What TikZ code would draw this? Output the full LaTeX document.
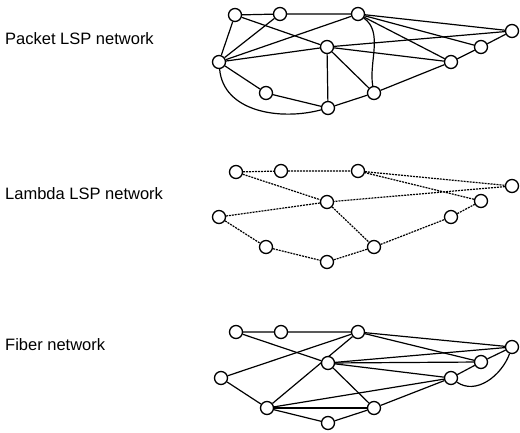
\documentclass[tikz,border=0pt]{standalone}
\usepackage{fontspec}
\setmainfont{Liberation Sans}
\usetikzlibrary{backgrounds}
\begin{document}
\begin{tikzpicture}[x=1pt,y=1pt,
    router/.style={circle, draw, line width=1.3pt, fill=white, minimum size=13pt, inner sep=0pt},
    link/.style={line width=1.2pt},
    lambda/.style={line width=1.2pt, dash pattern=on 2pt off 1pt},
    netlabel/.style={anchor=west, inner sep=0pt, font=\fontsize{16.5}{19}\selectfont}]
                \useasboundingbox (0,0) rectangle (520,-433);
                \node[netlabel] (packet) at (5,-39) {Packet LSP network};
                \node[netlabel] (lambdanet) at (5,-194) {Lambda LSP network};
                \node[netlabel] (fiber) at (5,-345) {Fiber network};
                \node[router] (pa) at (235,-15) {};
                \node[router] (pb) at (280,-14) {};
                \node[router] (pc) at (358,-14) {};
                \node[router] (pd) at (512,-31) {};
                \node[router] (pe) at (481,-47) {};
                \node[router] (pf) at (451,-62) {};
                \node[router] (pg) at (327,-47) {};
                \node[router] (ph) at (219,-62) {};
                \node[router] (pi) at (266,-93) {};
                \node[router] (pj) at (374,-93) {};
                \node[router] (pk) at (328,-108) {};
                \node[router] (la) at (236,-172) {};
                \node[router] (lb) at (281,-171) {};
                \node[router] (lc) at (358,-171) {};
                \node[router] (ld) at (512,-186) {};
                \node[router] (le) at (481,-201) {};
                \node[router] (lf) at (451,-217) {};
                \node[router] (lg) at (327,-202) {};
                \node[router] (lh) at (219,-217) {};
                \node[router] (li) at (266,-247) {};
                \node[router] (lj) at (374,-247) {};
                \node[router] (lk) at (327,-262) {};
                \node[router] (fa) at (236,-332) {};
                \node[router] (fb) at (281,-332) {};
                \node[router] (fc) at (358,-332) {};
                \node[router] (fd) at (512,-347) {};
                \node[router] (fe) at (481,-362) {};
                \node[router] (ff) at (451,-378) {};
                \node[router] (fg) at (328,-363) {};
                \node[router] (fh) at (221,-378) {};
                \node[router] (fi) at (267,-408) {};
                \node[router] (fj) at (374,-408) {};
                \node[router] (fk) at (328,-423) {};
                \begin{scope}[on background layer]
                \draw[link] (pa) -- (pb) -- (pc) -- (pd) -- (pe) -- (pf) -- (pj) -- (pk) -- (pi) -- (ph) -- (pa);
                \draw[link] (pa) -- (pg) -- (pk);
                \draw[link] (pg) -- (pj);
                \draw[link] (pg) -- (pf);
                \draw[link] (ph) -- (pg) -- (pd);
                \draw[link] (ph) -- (pb);
                \draw[link] (ph) -- (pc);
                \draw[link] (pc) -- (pe);
                \draw[link] (pc) -- (pf);
                \draw[link] (ph) to[out=-85,in=195] (pk);
                \draw[link] (pc) to[out=-35,in=100,looseness=0.9] (pj);
                \draw[lambda] (la) -- (lb) -- (lc) -- (ld) -- (lg) -- (lh) -- (li) -- (lk) -- (lj) -- (lf) -- (le) -- (lc);
                \draw[lambda] (la) -- (lg) -- (lj);
                \draw[link] (fa) -- (fb) -- (fc) -- (fd) -- (fe) -- (ff) -- (fj) -- (fk) -- (fi) -- (fh) -- (fc);
                \draw[link] (fa) -- (fg) -- (fj);
                \draw[link] (fi) -- (fc);
                \draw[link] (fc) -- (fe);
                \draw[link] (fg) -- (fd);
                \draw[link] (fg) -- (fe);
                \draw[link] (fg) -- (ff);
                \draw[link] (fi) -- (ff);
                \draw[link] (fi) -- (fj);
                \draw[link] (fd) to[out=-110,in=-35] (ff);
                \end{scope}
                \end{tikzpicture}
\end{document}
